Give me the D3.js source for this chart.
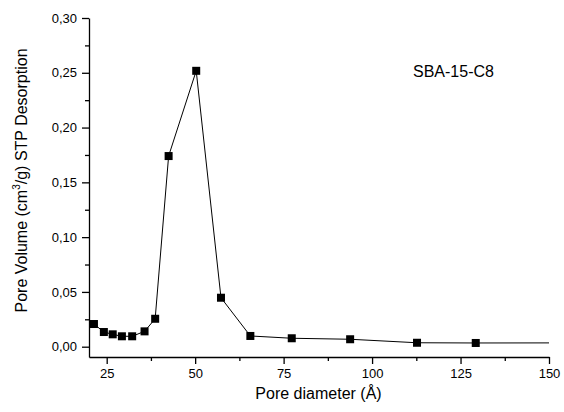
<!DOCTYPE html>
<html><head><meta charset="utf-8">
<script src="https://cdn.jsdelivr.net/npm/d3@7"></script>
<style>body{margin:0;background:#fff}svg{display:block}text{font-family:"Liberation Sans",Arial,sans-serif;fill:#000}</style>
</head><body>
<script>
const poreDiameter = [21.4, 24.2, 26.7, 29.3, 32.2, 35.7, 38.7, 42.5, 50.3, 57.3, 65.6, 77.3, 93.8, 112.7, 129.3, 160];
const poreVolume   = [0.0207, 0.0134, 0.0113, 0.0095, 0.0095, 0.0140, 0.0255, 0.1740, 0.2518, 0.0447, 0.0098, 0.0077, 0.0068, 0.0036, 0.0034, 0.0035];
const xTicks = [25, 50, 75, 100, 125, 150];
const yTicks = [0, 0.05, 0.10, 0.15, 0.20, 0.25, 0.30];
const seriesLabel = "SBA-15-C8";

const W = 564, H = 412;
const svg = d3.select("body").append("svg").attr("width", W).attr("height", H);
const x = d3.scaleLinear().domain([20, 150]).range([89, 549]);
const y = d3.scaleLinear().domain([-0.0094, 0.30]).range([357, 18]);
const fmt = v => d3.format(".2f")(v).replace(".", ",");

svg.append("defs").append("clipPath").attr("id", "clip")
  .append("rect").attr("x", 89).attr("y", 10).attr("width", 460).attr("height", 347);

// axes
svg.append("g").attr("transform", "translate(0,357)")
  .call(d3.axisBottom(x).tickValues(xTicks).tickSize(7).tickPadding(5).tickSizeOuter(0));
svg.append("g").attr("transform", "translate(0,357)")
  .call(d3.axisBottom(x).tickValues([37.5, 62.5, 87.5, 112.5, 137.5]).tickSize(4).tickFormat("").tickSizeOuter(0))
  .select(".domain").remove();
svg.append("g").attr("transform", "translate(89,0)")
  .call(d3.axisLeft(y).tickValues(yTicks).tickSize(7).tickPadding(5).tickFormat(fmt).tickSizeOuter(0));
svg.append("g").attr("transform", "translate(89,0)")
  .call(d3.axisLeft(y).tickValues([0.025, 0.075, 0.125, 0.175, 0.225, 0.275]).tickSize(4).tickFormat("").tickSizeOuter(0))
  .select(".domain").remove();
svg.selectAll(".tick text").style("font-size", "13px").style("font-family", '"Liberation Sans",Arial,sans-serif');
svg.selectAll(".domain, .tick line").attr("stroke", "#000").attr("stroke-width", 1.3);

// line
const data = poreDiameter.map((d, i) => ({x: d, y: poreVolume[i]}));
const g = svg.append("g").attr("clip-path", "url(#clip)");
g.append("path").datum(data)
  .attr("fill", "none").attr("stroke", "#000").attr("stroke-width", 1)
  .attr("d", d3.line().x(d => x(d.x)).y(d => y(d.y)));
g.selectAll("rect.pt").data(data.filter(d => d.x <= 150)).join("rect").attr("class", "pt")
  .attr("x", d => x(d.x) - 4).attr("y", d => y(d.y) - 4)
  .attr("width", 8).attr("height", 8).attr("fill", "#000");

// labels
svg.append("text").attr("x", 413).attr("y", 77).style("font-size", "16px").text(seriesLabel);
svg.append("text").attr("x", 318.5).attr("y", 399).attr("text-anchor", "middle").style("font-size", "16px")
  .text("Pore diameter (Å)");
const yl = svg.append("text").attr("transform", "translate(27,180.5) rotate(-90)")
  .attr("text-anchor", "middle").style("font-size", "16px");
yl.append("tspan").text("Pore Volume (cm");
yl.append("tspan").attr("dy", -7).style("font-size", "10px").text("3");
yl.append("tspan").attr("dy", 7).text("/g) STP Desorption");
</script>
</body></html>
